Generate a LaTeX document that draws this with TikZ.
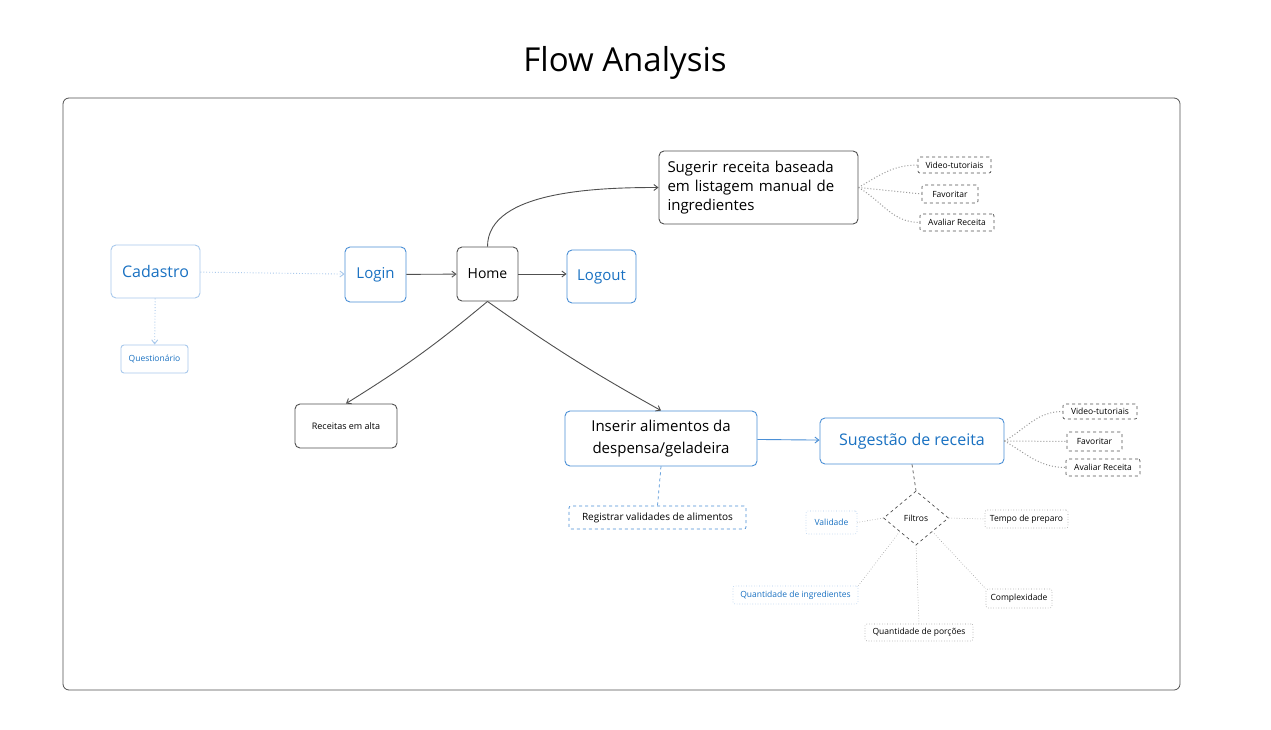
\documentclass[tikz,border=0pt]{standalone}
\usepackage{fontspec}
\setmainfont{Open Sans}
\usetikzlibrary{arrows.meta,shapes.geometric,positioning}
\definecolor{exblue}{HTML}{1971C2}
\definecolor{exline}{HTML}{4A8FD6}
\definecolor{expale}{HTML}{A9C9EC}
\definecolor{exgray}{HTML}{505050}
\definecolor{exlight}{HTML}{9A9A9A}

\begin{document}
\begin{tikzpicture}[x=1pt,y=-1pt,
    box/.style={draw=exgray,rounded corners=5pt,line width=0.9pt,align=center,inner sep=0pt},
    bluebox/.style={box,draw=exline,text=exblue},
    tag/.style={draw=exgray,dashed,rounded corners=2pt,line width=0.7pt,inner sep=0pt,
      font=\fontsize{8.5}{10}\selectfont},
    filt/.style={draw=exlight,dotted,rounded corners=2pt,line width=0.6pt,inner sep=0pt,
      font=\fontsize{8.5}{10}\selectfont},
    arr/.style={draw=exgray,line width=0.9pt,-{Straight Barb[length=4pt,width=6pt]}},
    branch/.style={draw=exlight,dotted,line width=1pt}]

  \fill[white] (0,0) rectangle (1271,730);
  \useasboundingbox (0,0) rectangle (1271,730);

  \node[font=\fontsize{33}{36}\selectfont] (title) at (625,63) {Flow Analysis};
  \draw[exgray,rounded corners=6pt,line width=0.8pt] (63,98) rectangle (1180,690);

  % main flow
  \node[bluebox,draw=expale,minimum width=89pt,minimum height=53pt,
    font=\fontsize{16}{18}\selectfont] (cadastro) at (155.5,271.5) {Cadastro};
  \node[bluebox,draw=expale,rounded corners=3pt,minimum width=67pt,minimum height=28pt,
    font=\fontsize{8.5}{10}\selectfont] (quest) at (154.5,359) {Questionário};
  \node[bluebox,minimum width=61pt,minimum height=55pt,
    font=\fontsize{15}{18}\selectfont] (login) at (375.5,274.5) {Login};
  \node[box,minimum width=61pt,minimum height=54pt,
    font=\fontsize{14}{18}\selectfont] (home) at (487.5,274) {Home};
  \node[bluebox,minimum width=69pt,minimum height=53pt,
    font=\fontsize{15}{18}\selectfont] (logout) at (601.5,276.5) {Logout};

  \node[box,minimum width=199pt,minimum height=73pt,text width=182pt,align=left,
    font=\fontsize{15}{19}\selectfont] (sugerir) at (758.5,187.5)
    {Sugerir receita baseada\\em listagem manual de\\ingredientes};
  \node[tag,minimum width=73pt,minimum height=16pt] (vid1) at (954.5,165) {Video-tutoriais};
  \node[tag,minimum width=56pt,minimum height=18pt] (fav1) at (950,194) {Favoritar};
  \node[tag,minimum width=74pt,minimum height=17pt] (aval1) at (957,222.5) {Avaliar Receita};

  \node[box,minimum width=102pt,minimum height=44pt,
    font=\fontsize{9}{10}\selectfont] (alta) at (346,426) {Receitas em alta};
  \node[box,draw=exline,minimum width=192pt,minimum height=55pt,
    font=\fontsize{15}{22}\selectfont] (inserir) at (661,438.5)
    {Inserir alimentos da\\despensa/geladeira};
  \node[bluebox,minimum width=184pt,minimum height=46pt,
    font=\fontsize{16}{18}\selectfont] (sugestao) at (912,441) {Sugestão de receita};
  \node[tag,minimum width=74pt,minimum height=15pt] (vid2) at (1100,411.5) {Video-tutoriais};
  \node[tag,minimum width=55pt,minimum height=19pt] (fav2) at (1094.5,441.5) {Favoritar};
  \node[tag,minimum width=74pt,minimum height=17pt] (aval2) at (1103,467.5) {Avaliar Receita};

  \node[tag,draw=exline,minimum width=177pt,minimum height=23pt,
    font=\fontsize{10}{12}\selectfont] (registrar) at (657.5,517.5)
    {Registrar validades de alimentos};

  % filtros
  \node[diamond,draw=exgray,dashed,line width=0.7pt,inner sep=0pt,aspect=1.2,
    minimum width=65pt,minimum height=54pt,font=\fontsize{8.5}{10}\selectfont]
    (filtros) at (916,518) {Filtros};
  \node[filt,draw=expale,text=exblue,minimum width=51pt,minimum height=23pt] (validade) at (831.5,522.5) {Validade};
  \node[filt,minimum width=83pt,minimum height=18pt] (tempo) at (1026.5,519) {Tempo de preparo};
  \node[filt,draw=expale,text=exblue,minimum width=125pt,minimum height=18pt] (qingr) at (795.5,595) {Quantidade de ingredientes};
  \node[filt,minimum width=66pt,minimum height=19pt] (complex) at (1019,598.5) {Complexidade};
  \node[filt,minimum width=108pt,minimum height=17pt] (qporc) at (919,632.5) {Quantidade de porções};

  % connectors
  \draw[arr,draw=expale,dotted] (cadastro) -- (login);
  \draw[arr,draw=expale,dotted] (cadastro) -- (quest);
  \draw[arr] (login) -- (home);
  \draw[arr] (home.east) -- (home.east -| logout.west);
  \draw[arr] (home.north) to[out=90,in=180,looseness=0.8] (sugerir.west);
  \draw[arr] (home.south) to[bend left=4] (alta.north);
  \draw[arr] (home.south) to[bend right=3] (inserir.north);
  \draw[arr,draw=exline] (inserir) -- (sugestao);
  \draw[draw=exline,dashed,line width=0.7pt] (inserir.south) -- (registrar.north);
  \draw[draw=exgray,dashed,line width=0.7pt] (sugestao.south) -- (filtros.north);

  \draw[branch] (sugerir.east) to[out=30,in=180] (vid1.west);
  \draw[branch] (sugerir.east) -- (fav1.west);
  \draw[branch] (sugerir.east) to[out=-30,in=180] (aval1.west);
  \draw[branch] (sugestao.east) to[out=30,in=180] (vid2.west);
  \draw[branch] (sugestao.east) -- (fav2.west);
  \draw[branch] (sugestao.east) to[out=-30,in=180] (aval2.west);

  \draw[branch,line width=0.6pt] (filtros.west) -- (validade.east);
  \draw[branch,line width=0.6pt] (filtros.east) -- (tempo.west);
  \draw[branch,line width=0.6pt] (filtros.south west) -- (qingr.north east);
  \draw[branch,line width=0.6pt] (filtros.south) -- (qporc.north);
  \draw[branch,line width=0.6pt] (filtros.south east) -- (complex.north west);
\end{tikzpicture}
\end{document}
